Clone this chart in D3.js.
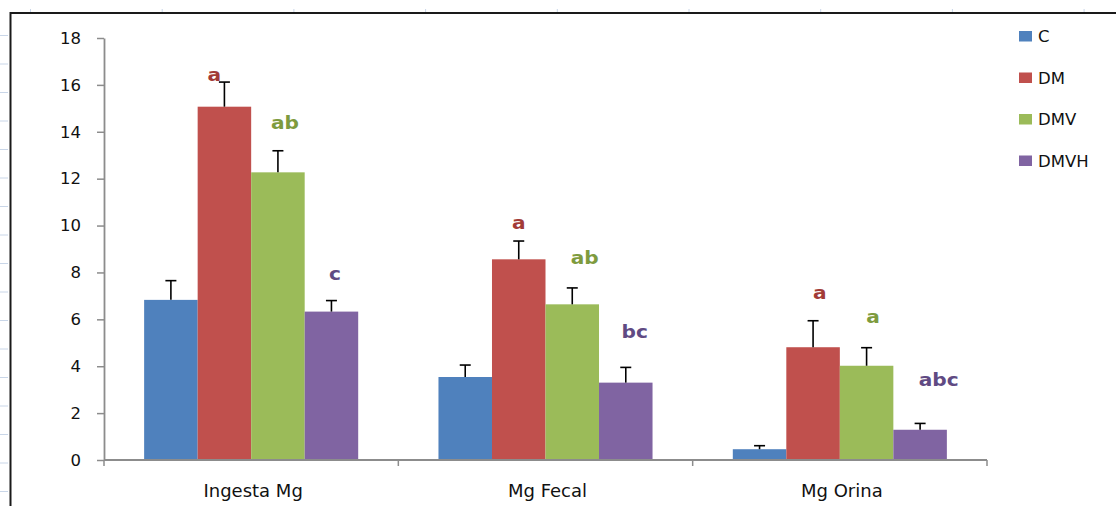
<!DOCTYPE html>
<html>
<head>
<meta charset="utf-8">
<script src="https://cdn.jsdelivr.net/npm/d3@7"></script>
<style>
  html, body { margin: 0; padding: 0; background: #fff; }
  svg { display: block; font-family: "DejaVu Sans", Verdana, sans-serif; }
</style>
</head>
<body>
<svg id="chart" width="1116" height="506"></svg>
<script>
// Magnesium balance by treatment group
const categories = ["Ingesta Mg", "Mg Fecal", "Mg Orina"];
const series = ["C", "DM", "DMV", "DMVH"];
const meanC    = [6.83, 3.54, 0.46];
const meanDM   = [15.07, 8.56, 4.81];
const meanDMV  = [12.27, 6.64, 4.02];
const meanDMVH = [6.33, 3.30, 1.29];
const errC     = [0.82, 0.51, 0.15];
const errDM    = [1.05, 0.78, 1.13];
const errDMV   = [0.92, 0.70, 0.77];
const errDMVH  = [0.47, 0.65, 0.27];
const yTicks = [0, 2, 4, 6, 8, 10, 12, 14, 16, 18];

// significance letters: series, category, text, height in axis units
const letterSeries   = ["DM", "DMV", "DMVH", "DM", "DMV", "DMVH", "DM", "DMV", "DMVH"];
const letterCategory = ["Ingesta Mg", "Ingesta Mg", "Ingesta Mg", "Mg Fecal", "Mg Fecal", "Mg Fecal", "Mg Orina", "Mg Orina", "Mg Orina"];
const letterText     = ["a", "ab", "c", "a", "ab", "bc", "a", "a", "abc"];
const letterAt       = [16.18, 14.1, 7.68, 9.86, 8.36, 5.22, 6.87, 5.84, 3.17];

const means = { C: meanC, DM: meanDM, DMV: meanDMV, DMVH: meanDMVH };
const errs  = { C: errC, DM: errDM, DMV: errDMV, DMVH: errDMVH };
const colors = { C: "#4F81BD", DM: "#C0504D", DMV: "#9BBB59", DMVH: "#8064A2" };
const letterColors = { DM: "#A23B37", DMV: "#7E9B3E", DMVH: "#604A83" };
// horizontal nudges for the letters (px), same order as the letter arrays
const letterNudge = [-10, 7, 3.5, 0, 12.5, 9, 6.7, 6.5, 18.6];

const svg = d3.select("#chart");

// worksheet remnants around the chart frame
const gridTick = "#C9D6E8";
svg.append("g").selectAll("line")
  .data(d3.range(17))
  .join("line")
  .attr("x1", 0).attr("x2", 8)
  .attr("y1", i => 35.5 + 28.5 * i).attr("y2", i => 35.5 + 28.5 * i)
  .attr("stroke", gridTick).attr("stroke-width", 1);
svg.append("g").selectAll("line")
  .data(d3.range(9))
  .join("line")
  .attr("x1", i => 30.5 + 131.7 * i).attr("x2", i => 30.5 + 131.7 * i)
  .attr("y1", 9).attr("y2", 13)
  .attr("stroke", gridTick).attr("stroke-width", 1);

// chart frame (top and left edges visible)
svg.append("path")
  .attr("d", "M10.5,506 V13 H1116")
  .attr("fill", "none")
  .attr("stroke", "#1a1a1a")
  .attr("stroke-width", 2);

// scales
const x0 = d3.scaleBand().domain(categories).range([104, 987]);
const x1 = d3.scaleBand().domain(series).range([0, x0.bandwidth()]).paddingOuter(0.75).paddingInner(0);
const y = d3.scaleLinear().domain([0, 18]).range([460, 38]);

// bars
const groups = svg.append("g").selectAll("g")
  .data(categories)
  .join("g")
  .attr("transform", d => `translate(${x0(d)},0)`);

groups.selectAll("rect")
  .data((c, ci) => series.map(s => ({ s, v: means[s][ci] })))
  .join("rect")
  .attr("x", d => x1(d.s))
  .attr("width", x1.bandwidth())
  .attr("y", d => y(d.v))
  .attr("height", d => y(0) - y(d.v))
  .attr("fill", d => colors[d.s]);

// error bars (upper half only)
const eb = groups.selectAll("g.err")
  .data((c, ci) => series.map(s => ({ s, v: means[s][ci], e: errs[s][ci] })))
  .join("g")
  .attr("class", "err")
  .attr("stroke", "#000")
  .attr("stroke-width", 1.6);
eb.append("line")
  .attr("x1", d => x1(d.s) + x1.bandwidth() / 2)
  .attr("x2", d => x1(d.s) + x1.bandwidth() / 2)
  .attr("y1", d => y(d.v))
  .attr("y2", d => y(d.v + d.e));
eb.append("line")
  .attr("x1", d => x1(d.s) + x1.bandwidth() / 2 - 5.5)
  .attr("x2", d => x1(d.s) + x1.bandwidth() / 2 + 5.5)
  .attr("y1", d => y(d.v + d.e))
  .attr("y2", d => y(d.v + d.e));

// y axis
const yAxis = svg.append("g")
  .attr("transform", "translate(104,0)")
  .call(d3.axisLeft(y).tickValues(yTicks).tickSize(7).tickPadding(16).tickSizeOuter(0));
yAxis.select(".domain").attr("stroke", "#8C8C8C").attr("stroke-width", 1.8);
yAxis.selectAll(".tick line").attr("stroke", "#8C8C8C").attr("stroke-width", 1.5);
yAxis.selectAll(".tick text")
  .attr("font-size", 16.5)
  .attr("font-family", "DejaVu Sans, Verdana, sans-serif")
  .attr("fill", "#111");

// x axis with category separators
const xAxis = svg.append("g").attr("transform", "translate(0,460)");
xAxis.append("line")
  .attr("x1", 104).attr("x2", 987)
  .attr("stroke", "#8C8C8C").attr("stroke-width", 1.8);
xAxis.selectAll("line.sep")
  .data(categories.map(c => x0(c)).concat([x0(categories[categories.length - 1]) + x0.bandwidth()]))
  .join("line")
  .attr("class", "sep")
  .attr("x1", d => d).attr("x2", d => d)
  .attr("y1", 0).attr("y2", 6)
  .attr("stroke", "#8C8C8C").attr("stroke-width", 1.5);
xAxis.selectAll("text")
  .data(categories)
  .join("text")
  .attr("x", d => x0(d) + x0.bandwidth() / 2 + 2)
  .attr("y", 37)
  .attr("text-anchor", "middle")
  .attr("font-size", 18)
  .attr("fill", "#111")
  .text(d => d);

// significance letters (slightly wide bold face)
svg.append("g").selectAll("text")
  .data(letterText.map((t, i) => ({ t, s: letterSeries[i], c: letterCategory[i], at: letterAt[i], dx: letterNudge[i] })))
  .join("text")
  .attr("transform", d => `translate(${x0(d.c) + x1(d.s) + x1.bandwidth() / 2 + d.dx},${y(d.at)}) scale(1.12,1)`)
  .attr("text-anchor", "middle")
  .attr("font-size", 18)
  .attr("font-weight", "bold")
  .attr("fill", d => letterColors[d.s])
  .text(d => d.t);

// legend
const legend = svg.append("g").selectAll("g")
  .data(series)
  .join("g")
  .attr("transform", (d, i) => `translate(1019,${31 + i * 41.5})`);
legend.append("rect")
  .attr("width", 13).attr("height", 10.5)
  .attr("fill", d => colors[d]);
legend.append("text")
  .attr("x", 19).attr("y", 11)
  .attr("font-size", 16.5)
  .attr("fill", "#111")
  .text(d => d);
</script>
</body>
</html>
